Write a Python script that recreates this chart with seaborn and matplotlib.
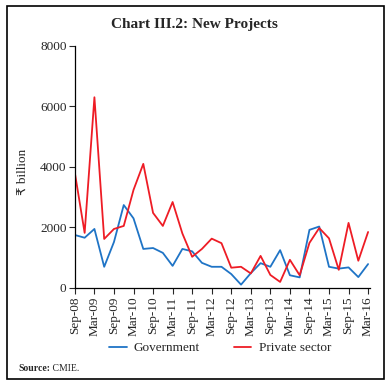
import numpy as np
import pandas as pd
import seaborn as sns
import matplotlib.pyplot as plt
from matplotlib.patches import Rectangle

## Data (quarterly, Sep-08 to Mar-16, ₹ billion)
quarters = ['Sep-08', 'Dec-08', 'Mar-09', 'Jun-09', 'Sep-09', 'Dec-09', 'Mar-10', 'Jun-10',
            'Sep-10', 'Dec-10', 'Mar-11', 'Jun-11', 'Sep-11', 'Dec-11', 'Mar-12', 'Jun-12',
            'Sep-12', 'Dec-12', 'Mar-13', 'Jun-13', 'Sep-13', 'Dec-13', 'Mar-14', 'Jun-14',
            'Sep-14', 'Dec-14', 'Mar-15', 'Jun-15', 'Sep-15', 'Dec-15', 'Mar-16']
government = [1750, 1660, 1950, 700, 1520, 2740, 2300, 1290, 1320, 1160, 730, 1290,
              1210, 830, 700, 700, 460, 110, 490, 820, 700, 1250, 420, 350,
              1920, 2030, 700, 640, 680, 360, 790]
private = [3800, 1820, 6300, 1620, 1950, 2050, 3240, 4100, 2480, 2050, 2840, 1800,
           1030, 1290, 1630, 1480, 670, 700, 480, 1060, 430, 200, 930, 420,
           1490, 1980, 1640, 600, 2150, 900, 1850]
tick_labels = quarters[::2]

df = pd.DataFrame({
    'q': list(range(len(quarters))) * 2,
    'value': government + private,
    'series': ['Government'] * len(quarters) + ['Private sector'] * len(quarters),
})

sns.set_style('white')
plt.rcParams['font.family'] = ['Liberation Serif', 'DejaVu Sans']

fig = plt.figure(figsize=(3.92, 3.85), dpi=100)
ax = fig.add_axes([0.191, 0.252, 0.753, 0.629])

sns.lineplot(data=df, x='q', y='value', hue='series',
             palette={'Government': '#1f74c6', 'Private sector': '#ee1c25'},
             linewidth=1.3, ax=ax, legend=False)

ax.set_xlim(0, 30.2)
ax.set_ylim(0, 8000)
ax.set_yticks([0, 2000, 4000, 6000, 8000])
ax.set_xticks(range(0, len(quarters), 2))
ax.set_xticklabels(tick_labels, rotation=90, fontsize=9.5)
ax.tick_params(axis='y', labelsize=9.5, direction='out', length=4, width=0.8, left=True, pad=2)
ax.tick_params(axis='x', direction='out', length=4, width=0.8, bottom=True, pad=2)
ax.set_xlabel('')
ax.set_ylabel('₹ billion', fontsize=9.5)
ax.yaxis.set_label_coords(-0.155, 0.48)
for s in ['top', 'right']:
    ax.spines[s].set_visible(False)
for s in ['left', 'bottom']:
    ax.spines[s].set_color('black')
    ax.spines[s].set_linewidth(0.9)

fig.suptitle('Chart III.2: New Projects', x=0.495, y=0.952, fontsize=11,
             fontweight='bold')

handles = [plt.Line2D([], [], color='#1f74c6', lw=1.3),
           plt.Line2D([], [], color='#ee1c25', lw=1.3)]
fig.legend(handles, ['Government', 'Private sector'], loc='center',
           bbox_to_anchor=(0.562, 0.096), ncol=2, frameon=False, fontsize=9.5,
           handlelength=1.3, columnspacing=2.6, handletextpad=0.55)

src = fig.text(0.046, 0.044, 'Source:', fontsize=7, fontweight='bold', va='center')
ax.annotate(' CMIE.', xy=(1, 0.5), xycoords=src, va='center', ha='left', fontsize=7,
            annotation_clip=False)

fig.patches.append(Rectangle((0.018, 0.016), 0.962, 0.968, transform=fig.transFigure,
                             fill=False, edgecolor='black', linewidth=1.2))

fig.savefig('out.png', dpi=100)
